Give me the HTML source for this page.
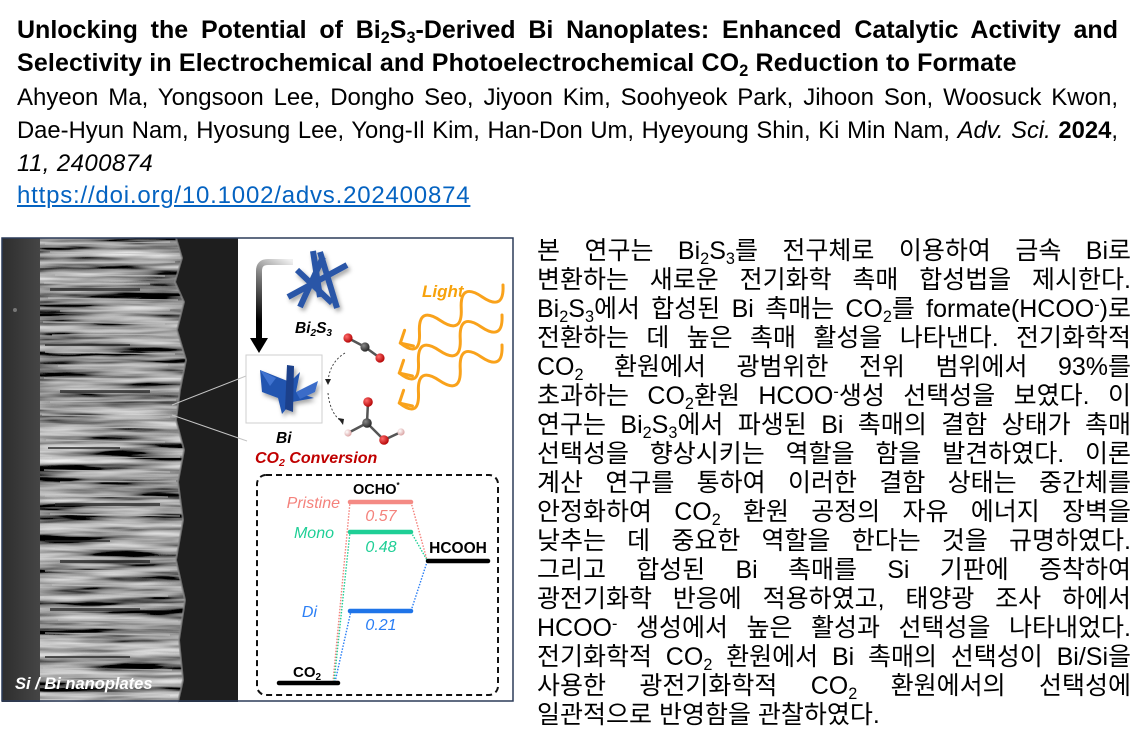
<!DOCTYPE html>
<html>
<head>
<meta charset="utf-8">
<style>
html,body{margin:0;padding:0;background:#fff;}
body{width:1147px;height:749px;overflow:hidden;position:relative;}
.t{position:absolute;left:17px;width:1101px;font-family:"Liberation Sans",Arial,sans-serif;font-size:24px;line-height:33px;color:#000;white-space:normal;}
.b{font-weight:bold;font-size:25px;}
.j{text-align:justify;text-align-last:justify;}
.sb{font-size:.65em;position:relative;top:.3em;line-height:0;}
.sp{font-size:.65em;position:relative;top:-.45em;line-height:0;}
.link{color:#0563c1;text-decoration:underline;letter-spacing:0.8px;}
.k{position:absolute;left:537px;width:594px;font-family:"Liberation Sans","Noto Sans CJK KR",sans-serif;font-size:25px;line-height:29px;color:#000;text-align:justify;text-align-last:justify;white-space:normal;}
.k.last{text-align-last:left;}
svg{position:absolute;left:0;top:0;}
</style>
</head>
<body>

<div class="t b j" style="top:14px">Unlocking the Potential of Bi<span class="sb">2</span>S<span class="sb">3</span>-Derived Bi Nanoplates: Enhanced Catalytic Activity and</div>
<div class="t b" style="top:47px;letter-spacing:0.14px">Selectivity in Electrochemical and Photoelectrochemical CO<span class="sb">2</span> Reduction to Formate</div>
<div class="t j" style="top:81px">Ahyeon Ma, Yongsoon Lee, Dongho Seo, Jiyoon Kim, Soohyeok Park, Jihoon Son, Woosuck Kwon,</div>
<div class="t j" style="top:114px;font-size:23.8px">Dae-Hyun Nam, Hyosung Lee, Yong-Il Kim, Han-Don Um, Hyeyoung Shin, Ki Min Nam, <i>Adv. Sci.</i> <b>2024</b>,</div>
<div class="t" style="top:147px;letter-spacing:0.4px"><i>11, 2400874</i></div>
<div class="t link" style="top:179px">https://doi.org/10.1002/advs.202400874</div>

<div class="k" style="top:237px">본 연구는 Bi<span class="sb">2</span>S<span class="sb">3</span>를 전구체로 이용하여 금속 Bi로</div>
<div class="k" style="top:266px">변환하는 새로운 전기화학 촉매 합성법을 제시한다.</div>
<div class="k" style="top:295px">Bi<span class="sb">2</span>S<span class="sb">3</span>에서 합성된 Bi 촉매는 CO<span class="sb">2</span>를 formate(HCOO<span class="sp">-</span>)로</div>
<div class="k" style="top:324px">전환하는 데 높은 촉매 활성을 나타낸다. 전기화학적</div>
<div class="k" style="top:353px">CO<span class="sb">2</span> 환원에서 광범위한 전위 범위에서 93%를</div>
<div class="k" style="top:382px">초과하는 CO<span class="sb">2</span>환원 HCOO<span class="sp">-</span>생성 선택성을 보였다. 이</div>
<div class="k" style="top:411px">연구는 Bi<span class="sb">2</span>S<span class="sb">3</span>에서 파생된 Bi 촉매의 결함 상태가 촉매</div>
<div class="k" style="top:440px">선택성을 향상시키는 역할을 함을 발견하였다. 이론</div>
<div class="k" style="top:469px">계산 연구를 통하여 이러한 결함 상태는 중간체를</div>
<div class="k" style="top:498px">안정화하여 CO<span class="sb">2</span> 환원 공정의 자유 에너지 장벽을</div>
<div class="k" style="top:527px">낮추는 데 중요한 역할을 한다는 것을 규명하였다.</div>
<div class="k" style="top:556px">그리고 합성된 Bi 촉매를 Si 기판에 증착하여</div>
<div class="k" style="top:585px">광전기화학 반응에 적용하였고, 태양광 조사 하에서</div>
<div class="k" style="top:614px">HCOO<span class="sp">-</span> 생성에서 높은 활성과 선택성을 나타내었다.</div>
<div class="k" style="top:643px">전기화학적 CO<span class="sb">2</span> 환원에서 Bi 촉매의 선택성이 Bi/Si을</div>
<div class="k" style="top:672px">사용한 광전기화학적 CO<span class="sb">2</span> 환원에서의 선택성에</div>
<div class="k last" style="top:701px">일관적으로 반영함을 관찰하였다.</div>

<svg width="520" height="710" viewBox="0 0 520 710" xmlns="http://www.w3.org/2000/svg" font-family="Liberation Sans, Arial, sans-serif">
  <defs>
    <linearGradient id="si" x1="0" y1="0" x2="1" y2="0">
      <stop offset="0" stop-color="#2e2e2e"/>
      <stop offset="1" stop-color="#454545"/>
    </linearGradient>
    <linearGradient id="arr" gradientUnits="userSpaceOnUse" x1="293" y1="262" x2="259" y2="320">
      <stop offset="0" stop-color="#f0f0f0"/>
      <stop offset="0.45" stop-color="#777"/>
      <stop offset="1" stop-color="#000"/>
    </linearGradient>
    <filter id="streak" x="0" y="0" width="100%" height="100%">
      <feTurbulence type="fractalNoise" baseFrequency="0.01 0.14" numOctaves="3" seed="7"/>
      <feColorMatrix type="matrix" values="1.5 0 0 0 -0.45  1.5 0 0 0 -0.45  1.5 0 0 0 -0.45  0 0 0 0 1"/>
    </filter>
    <clipPath id="col">
      <polygon points="40,238 176,238 182,258 175,282 184,302 177,330 186,360 180,390 176,420 184,450 178,482 183,520 176,560 185,600 179,640 183,680 178,702 40,702"/>
    </clipPath>
    <filter id="sh" x="-20%" y="-20%" width="150%" height="150%">
      <feDropShadow dx="2" dy="3" stdDeviation="2" flood-color="#000" flood-opacity="0.35"/>
    </filter>
    <radialGradient id="red" cx="0.35" cy="0.35" r="0.7">
      <stop offset="0" stop-color="#ff6a6a"/>
      <stop offset="1" stop-color="#b00000"/>
    </radialGradient>
    <radialGradient id="dark" cx="0.35" cy="0.35" r="0.7">
      <stop offset="0" stop-color="#888"/>
      <stop offset="1" stop-color="#222"/>
    </radialGradient>
    <radialGradient id="hyd" cx="0.35" cy="0.35" r="0.7">
      <stop offset="0" stop-color="#fff"/>
      <stop offset="1" stop-color="#d9a0a0"/>
    </radialGradient>
  </defs>

  <!-- SEM panel -->
  <rect x="2" y="238" width="236" height="464" fill="#1e1e1e"/>
  <rect x="2" y="238" width="38" height="464" fill="url(#si)"/>
  <circle cx="15" cy="310" r="2" fill="#777"/>
  <g clip-path="url(#col)">
    <rect x="40" y="238" width="150" height="464" fill="#555"/>
    <rect x="40" y="238" width="150" height="464" filter="url(#streak)"/>
    <g fill="#2a2a2a" opacity="0.75">
      <rect x="50" y="288" width="90" height="3"/>
      <rect x="45" y="344" width="85" height="2"/>
      <rect x="60" y="390" width="90" height="3"/>
      <rect x="48" y="447" width="72" height="2"/>
      <rect x="55" y="503" width="105" height="3"/>
      <rect x="45" y="540" width="65" height="2"/>
      <rect x="60" y="560" width="90" height="3"/>
      <rect x="50" y="608" width="90" height="3"/>
      <rect x="45" y="656" width="85" height="2"/>
    </g>
    <g stroke="#c4c4c4" stroke-width="1.2" opacity="0.75">
      <line x1="45" y1="244" x2="170" y2="242"/>
      <line x1="50" y1="252" x2="160" y2="254"/>
      <line x1="42" y1="263" x2="175" y2="262"/>
      <line x1="55" y1="275" x2="165" y2="276"/>
      <line x1="44" y1="283" x2="150" y2="284"/>
      <line x1="48" y1="298" x2="178" y2="300"/>
      <line x1="60" y1="311" x2="170" y2="310"/>
      <line x1="43" y1="322" x2="165" y2="324"/>
      <line x1="52" y1="335" x2="180" y2="334"/>
      <line x1="45" y1="352" x2="175" y2="354"/>
      <line x1="58" y1="366" x2="168" y2="365"/>
      <line x1="44" y1="378" x2="180" y2="380"/>
      <line x1="50" y1="402" x2="176" y2="400"/>
      <line x1="42" y1="415" x2="170" y2="417"/>
      <line x1="55" y1="428" x2="178" y2="427"/>
      <line x1="46" y1="440" x2="165" y2="442"/>
      <line x1="52" y1="458" x2="180" y2="457"/>
      <line x1="44" y1="470" x2="170" y2="472"/>
      <line x1="60" y1="482" x2="176" y2="481"/>
      <line x1="45" y1="496" x2="168" y2="497"/>
      <line x1="50" y1="514" x2="180" y2="516"/>
      <line x1="43" y1="526" x2="172" y2="525"/>
      <line x1="55" y1="548" x2="176" y2="550"/>
      <line x1="45" y1="571" x2="170" y2="570"/>
      <line x1="52" y1="585" x2="182" y2="587"/>
      <line x1="44" y1="597" x2="168" y2="596"/>
      <line x1="58" y1="620" x2="178" y2="621"/>
      <line x1="45" y1="633" x2="170" y2="635"/>
      <line x1="50" y1="645" x2="180" y2="644"/>
      <line x1="43" y1="668" x2="172" y2="670"/>
      <line x1="55" y1="680" x2="178" y2="679"/>
      <line x1="46" y1="695" x2="170" y2="696"/>
    </g>
  </g>
  <polyline points="176,238 182,258 175,282 184,302 177,330 186,360 180,390 176,420 184,450 178,482 183,520 176,560 185,600 179,640 183,680 178,702" fill="none" stroke="#8a8a8a" stroke-width="2" opacity="0.7"/>
  <text x="15" y="689" font-size="16.5" font-weight="bold" font-style="italic" fill="#fff">Si / Bi nanoplates</text>

  <!-- right white panel -->
  <rect x="238" y="238" width="275" height="463" fill="#fff"/>
  <rect x="2" y="238" width="511" height="463" fill="none" stroke="#2c3b58" stroke-width="1.5"/>

  <!-- zoom lines -->
  <line x1="172" y1="405" x2="246" y2="376" stroke="#c4c4c4" stroke-width="1"/>
  <line x1="172" y1="415" x2="247" y2="441" stroke="#c4c4c4" stroke-width="1"/>

  <!-- black arrow -->
  <path d="M293,262 L268,262 Q259,262 259,271 L259,340" fill="none" stroke="url(#arr)" stroke-width="6"/>
  <polygon points="250,338 268,338 259,353" fill="#000"/>

  <!-- Bi2S3 rods -->
  <g stroke="#2b57a7" stroke-width="6" filter="url(#sh)">
    <line x1="288" y1="297" x2="347" y2="265"/>
    <line x1="300" y1="307" x2="323" y2="257"/>
    <line x1="313" y1="251" x2="320" y2="297"/>
    <line x1="320" y1="252" x2="337" y2="308"/>
    <line x1="297" y1="270" x2="332" y2="303"/>
  </g>
  <text x="295" y="333" font-size="15.5" font-weight="bold" font-style="italic" fill="#000">Bi<tspan font-size="10" dy="3">2</tspan><tspan dy="-3">S</tspan><tspan font-size="10" dy="3">3</tspan></text>

  <!-- Bi box -->
  <rect x="246" y="355" width="76" height="68" fill="#fff" stroke="#cfcfcf" stroke-width="1"/>
  <g filter="url(#sh)">
    <polygon points="260,370 290,382 300,372 296,392 314,398 292,402 282,414 278,398 262,392" fill="#2455b0"/>
    <polygon points="287,365 294,366 293,412 285,409" fill="#1a3f8a"/>
    <polygon points="296,392 318,381 315,392 300,399" fill="#3a6cc8"/>
    <polygon points="260,370 276,378 270,386" fill="#3f73d0"/>
  </g>
  <text x="276" y="443" font-size="15.5" font-weight="bold" font-style="italic" fill="#000">Bi</text>
  <text x="255" y="463" font-size="16" font-weight="bold" font-style="italic" fill="#c00000">CO<tspan font-size="10.5" dy="3">2</tspan><tspan dy="-3"> Conversion</tspan></text>

  <!-- CO2 molecule -->
  <g stroke="#555" stroke-width="2.5">
    <line x1="348" y1="338" x2="365" y2="347"/>
    <line x1="365" y1="347" x2="380" y2="358"/>
  </g>
  <circle cx="348" cy="338" r="4.6" fill="url(#red)"/>
  <circle cx="365" cy="347" r="4.6" fill="url(#dark)"/>
  <circle cx="380" cy="358" r="4.6" fill="url(#red)"/>

  <!-- curved dashed arrows -->
  <path d="M345,353 Q330,362 328,381" fill="none" stroke="#333" stroke-width="0.9" stroke-dasharray="2,2"/>
  <polygon points="325,379 331,379 328,385" fill="#222"/>
  <path d="M328,393 Q330,413 341,421" fill="none" stroke="#333" stroke-width="0.9" stroke-dasharray="2,2"/>
  <polygon points="338,418 344,419 343,425" fill="#222"/>

  <!-- HCOOH molecule -->
  <g stroke="#555" stroke-width="2.5">
    <line x1="367" y1="423" x2="368" y2="402"/>
    <line x1="367" y1="423" x2="348" y2="433"/>
    <line x1="367" y1="423" x2="384" y2="440"/>
    <line x1="384" y1="440" x2="401" y2="432"/>
  </g>
  <circle cx="368" cy="402" r="4.8" fill="url(#red)"/>
  <circle cx="367" cy="423" r="4.8" fill="url(#dark)"/>
  <circle cx="348" cy="433" r="3.6" fill="url(#hyd)"/>
  <circle cx="384" cy="440" r="4.8" fill="url(#red)"/>
  <circle cx="401" cy="432" r="3.6" fill="url(#hyd)"/>

  <!-- Light waves -->
  <text x="422" y="297" font-size="17" font-weight="bold" font-style="italic" fill="#f7a20c">Light</text>
  <g fill="none" stroke="#f9a21b" stroke-width="3" stroke-linecap="round" stroke-linejoin="round">
    <g transform="translate(503,285) rotate(150.5)">
      <path d="M0,0 q12,-24 24,0 t24,0 t24,0 t24,0 t22,0"/>
      <path d="M108,-9 L118,0 L108,9"/>
    </g>
    <g transform="translate(502,315) rotate(150.5)">
      <path d="M0,0 q12,-24 24,0 t24,0 t24,0 t24,0 t22,0"/>
      <path d="M108,-9 L118,0 L108,9"/>
    </g>
    <g transform="translate(502,345) rotate(150.5)">
      <path d="M0,0 q12,-24 24,0 t24,0 t24,0 t24,0 t22,0"/>
      <path d="M108,-9 L118,0 L108,9"/>
    </g>
  </g>

  <!-- Energy diagram -->
  <rect x="257" y="475" width="241" height="220" rx="9" ry="9" fill="none" stroke="#111" stroke-width="2" stroke-dasharray="6,4"/>

  <g fill="none" stroke-width="1.4" stroke-dasharray="1.5,1.5">
    <line x1="333" y1="682" x2="350" y2="502" stroke="#f4827c"/>
    <line x1="334" y1="682" x2="350" y2="532" stroke="#1fcf96"/>
    <line x1="335" y1="682" x2="351" y2="611" stroke="#2a7ef5"/>
    <line x1="411" y1="502" x2="427" y2="560" stroke="#f4827c"/>
    <line x1="411" y1="532" x2="427" y2="560" stroke="#1fcf96"/>
    <line x1="411" y1="611" x2="427" y2="562" stroke="#2a7ef5"/>
  </g>

  <g stroke-width="4.5" stroke-linecap="round">
    <line x1="350" y1="502" x2="411" y2="502" stroke="#f48a84"/>
    <line x1="350" y1="532" x2="411" y2="532" stroke="#1fcf96"/>
    <line x1="350" y1="611" x2="411" y2="611" stroke="#1f74e8"/>
    <line x1="428" y1="561" x2="488" y2="561" stroke="#000"/>
    <line x1="279" y1="683" x2="338" y2="683" stroke="#000"/>
  </g>

  <text x="353" y="494" font-size="14.5" font-weight="bold" fill="#000">OCHO<tspan font-size="8" dy="-6">*</tspan></text>
  <text x="340" y="508" font-size="16" font-style="italic" fill="#f4827c" text-anchor="end">Pristine</text>
  <text x="381" y="521" font-size="16" font-style="italic" fill="#f4827c" text-anchor="middle">0.57</text>
  <text x="334" y="538" font-size="16" font-style="italic" fill="#1fcf96" text-anchor="end">Mono</text>
  <text x="381" y="552" font-size="16" font-style="italic" fill="#1fcf96" text-anchor="middle">0.48</text>
  <text x="458" y="553" font-size="15.5" font-weight="bold" fill="#000" text-anchor="middle">HCOOH</text>
  <text x="317" y="617" font-size="16" font-style="italic" fill="#2a7ef5" text-anchor="end">Di</text>
  <text x="381" y="630" font-size="16" font-style="italic" fill="#2a7ef5" text-anchor="middle">0.21</text>
  <text x="293" y="677" font-size="15" font-weight="bold" fill="#000">CO<tspan font-size="10" dy="3">2</tspan></text>
</svg>

</body>
</html>
